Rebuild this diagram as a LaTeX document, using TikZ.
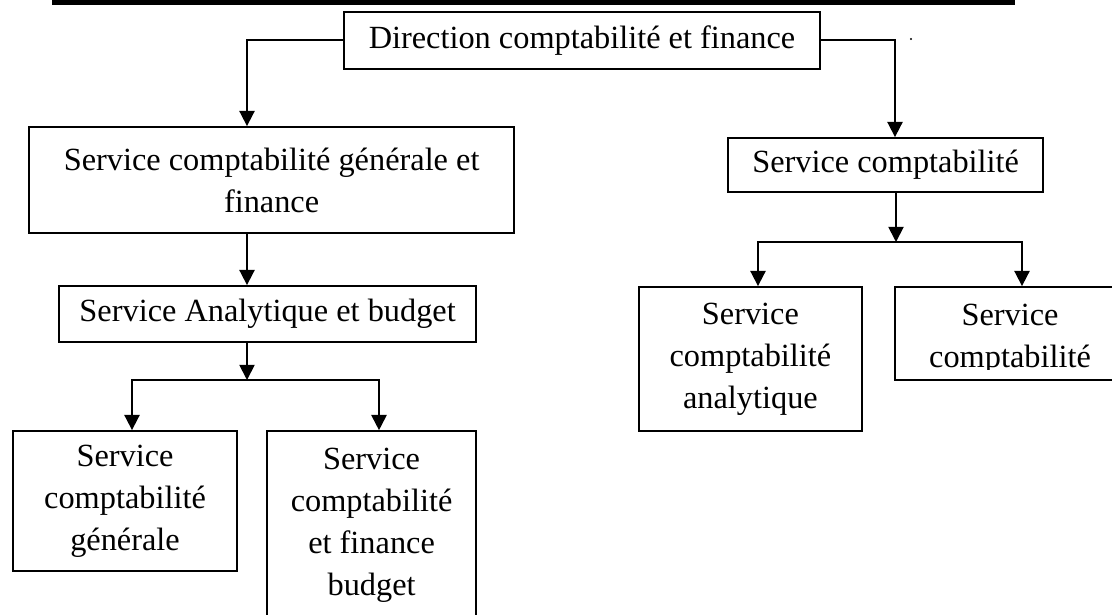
\documentclass[tikz,border=0pt]{standalone}
\usepackage{fontspec}
\setmainfont{Liberation Serif}
\usetikzlibrary{arrows.meta}

\begin{document}
\begin{tikzpicture}[>={Triangle[length=0.38cm,width=0.38cm]},line width=1.3pt,
  font=\fontsize{23}{29.9}\selectfont,
  box/.style={draw,inner sep=0pt,align=center},
  textcut/.style={fill=white,draw=none}]
  \useasboundingbox (0,0) rectangle (27.8,-15.35);
  % --- bandeau du titre ---
  \fill (1.3,0.1) rectangle (25.375,-0.125);
  \fill (22.775,-0.975) circle (0.03);
  % --- direction ---
  \node[box,minimum width=11.9cm,minimum height=1.425cm] (dir) at (14.55,-1.01) {Direction comptabilité et finance};
  \coordinate (jl) at (6.175,-1.01);
  \coordinate (jr) at (22.375,-1.01);
  % --- branche gauche ---
  \node[box,minimum width=12.125cm,minimum height=2.65cm] (gen) at (6.79,-4.5) {Service comptabilité générale et\\finance};
  \node[box,minimum width=10.425cm,minimum height=1.4cm] (ana) at (6.69,-7.85) {Service Analytique et budget};
  \node[box,minimum width=5.6cm,minimum height=3.5cm] (sg) at (3.125,-12.525) {Service\\comptabilité\\générale};
  \node[box,minimum width=5.225cm,minimum height=4.725cm] (sf) at (9.29,-13.14) {Service\\comptabilité\\et finance\\budget};
  \fill[textcut] ([shift={(0.05,0.05)}]sg.south west) rectangle ([shift={(-0.05,0.275)}]sg.south east);
  \coordinate (ja) at (6.175,-9.5);
  \coordinate (ja1) at (3.3,-9.5);
  \coordinate (ja2) at (9.475,-9.5);
  \draw[->] (dir.west) -- (jl) -- (jl |- gen.north);
  \draw[->] (jl |- gen.south) -- (jl |- ana.north);
  \draw[->] (jl |- ana.south) -- (ja);
  \draw[->] (ja) -- (ja1) -- (ja1 |- sg.north);
  \draw[->] (ja) -- (ja2) -- (ja2 |- sf.north);
  % --- branche droite ---
  \node[box,minimum width=7.875cm,minimum height=1.35cm] (sc) at (22.14,-4.125) {Service comptabilité};
  \node[box,minimum width=5.575cm,minimum height=3.6cm] (sca) at (18.76,-8.975) {Service\\comptabilité\\analytique};
  \node[box,minimum width=5.875cm,minimum height=2.325cm] (scb) at (25.31,-8.3375) {};
  \node[align=center] (scbtext) at (25.25,-8.49) {Service\\comptabilité};
  \fill[textcut] ([shift={(0.05,0.05)}]scb.south west) rectangle ([shift={(-0.05,0.275)}]scb.south east);
  \coordinate (jb) at (22.4,-6.05);
  \coordinate (jb1) at (18.95,-6.05);
  \coordinate (jb2) at (25.55,-6.05);
  \draw[->] (dir.east) -- (jr) -- (jr |- sc.north);
  \draw[->] (jb |- sc.south) -- (jb);
  \draw[->] (jb) -- (jb1) -- (jb1 |- sca.north);
  \draw[->] (jb) -- (jb2) -- (jb2 |- scb.north);
\end{tikzpicture}
\end{document}
